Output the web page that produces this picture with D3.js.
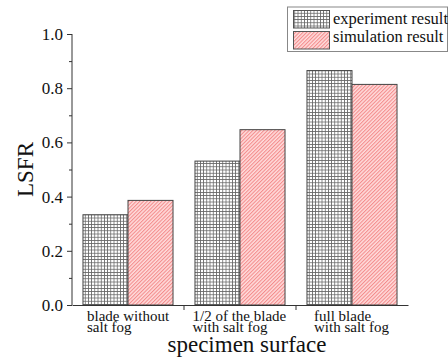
<!DOCTYPE html>
<html>
<head>
<meta charset="utf-8">
<script src="https://cdn.jsdelivr.net/npm/d3@7"></script>
<style>
  body { margin: 0; background: #fff; }
</style>
</head>
<body>
<script>
const width = 448;
const height = 362;

const categories = ['blade without\nsalt fog', '1/2 of the blade\nwith salt fog', 'full blade\nwith salt fog'];
const series = ['experiment result', 'simulation result'];
const experiment = [0.333, 0.531, 0.865];
const simulation = [0.386, 0.647, 0.814];
const yTicks = [0.0, 0.2, 0.4, 0.6, 0.8, 1.0];
const yMinor = [0.1, 0.3, 0.5, 0.7, 0.9];

const font = "'Liberation Serif', 'Times New Roman', serif";
const margin = { left: 72, right: 40, top: 34, bottom: 57 };

const svg = d3.select('body')
  .append('svg')
  .attr('width', width)
  .attr('height', height);

const defs = svg.append('defs');

// grid pattern for experiment
const grid = defs.append('pattern')
  .attr('id', 'grid')
  .attr('patternUnits', 'userSpaceOnUse')
  .attr('width', 3.2)
  .attr('height', 3.2);
grid.append('rect').attr('width', 3.2).attr('height', 3.2).attr('fill', '#fff');
grid.append('path')
  .attr('d', 'M0,0.4H3.2M0.4,0V3.2')
  .attr('stroke', '#666')
  .attr('stroke-width', 0.8);

// diagonal pattern for simulation
const hatch = defs.append('pattern')
  .attr('id', 'hatch')
  .attr('patternUnits', 'userSpaceOnUse')
  .attr('width', 2.6)
  .attr('height', 2.6)
  .attr('patternTransform', 'rotate(45)');
hatch.append('rect').attr('width', 2.6).attr('height', 2.6).attr('fill', '#ffdcdc');
hatch.append('path')
  .attr('d', 'M0.6,0V2.6')
  .attr('stroke', '#f07070')
  .attr('stroke-width', 0.8);

const fills = ['url(#grid)', 'url(#hatch)'];

const x = d3.scaleBand()
  .domain(categories)
  .range([margin.left, width - margin.right])
  .padding(0);

const inner = d3.scaleBand()
  .domain(series)
  .range([0, x.bandwidth()])
  .paddingOuter(0.244)
  .paddingInner(0);

const y = d3.scaleLinear()
  .domain([0, 1])
  .range([height - margin.bottom, margin.top]);

const rows = categories.map((c, i) => ({ cat: c, vals: [experiment[i], simulation[i]] }));

const group = svg.selectAll('.group')
  .data(rows)
  .join('g')
    .attr('transform', d => `translate(${x(d.cat)},0)`);

group.selectAll('rect')
  .data(d => d.vals.map((v, j) => ({ s: series[j], v, j })))
  .join('rect')
    .attr('x', d => inner(d.s))
    .attr('width', inner.bandwidth())
    .attr('y', d => y(d.v))
    .attr('height', d => y(0) - y(d.v))
    .attr('fill', d => fills[d.j])
    .attr('stroke', '#444')
    .attr('stroke-width', 1);

// y axis
const yAxis = svg.append('g')
  .attr('transform', `translate(${margin.left},0)`)
  .call(d3.axisLeft(y).tickValues(yTicks).tickFormat(d3.format('.1f')).tickSize(5).tickPadding(4))
  .call(g => g.select('.domain').attr('d', `M0,${y(0)}V${y(1)}`));
yAxis.selectAll('text')
  .style('font-family', font)
  .style('font-size', '17px')
  .attr('fill', '#111');
yAxis.selectAll('line, path').attr('stroke', '#333');

svg.append('g')
  .attr('transform', `translate(${margin.left},0)`)
  .call(d3.axisLeft(y).tickValues(yMinor).tickSize(3).tickFormat(''))
  .call(g => g.select('.domain').remove())
  .selectAll('line').attr('stroke', '#333');

// x axis
const xAxis = svg.append('g')
  .attr('transform', `translate(0,${y(0)})`)
  .call(d3.axisBottom(x).tickValues([]).tickSizeOuter(0));
xAxis.select('.domain').attr('stroke', '#333');
xAxis.selectAll('.sep')
  .data(categories.slice(1))
  .join('line')
    .attr('x1', d => x(d))
    .attr('x2', d => x(d))
    .attr('y1', 0)
    .attr('y2', 5)
    .attr('stroke', '#333');

// category labels (two lines, left aligned block centered in band)
const labelW = [82, 95, 76];
categories.forEach((c, i) => {
  const x0 = x(c) + x.bandwidth() / 2 - labelW[i] / 2;
  const t = svg.append('text')
    .attr('x', x0)
    .attr('y', y(0) + 15.5)
    .attr('fill', '#111')
    .style('font-family', font)
    .style('font-size', '15px');
  c.split('\n').forEach((line, k) => {
    t.append('tspan')
      .attr('x', x0)
      .attr('dy', k === 0 ? 0 : 11)
      .text(line);
  });
});

// axis titles
svg.append('text')
  .attr('x', 247)
  .attr('y', 352)
  .attr('text-anchor', 'middle')
  .attr('fill', '#111')
  .style('font-family', font)
  .style('font-size', '23px')
  .text('specimen surface');

svg.append('text')
  .attr('transform', `translate(33,${(y(0) + y(1)) / 2}) rotate(-90)`)
  .attr('text-anchor', 'middle')
  .attr('fill', '#111')
  .style('font-family', font)
  .style('font-size', '23px')
  .text('LSFR');

// legend
const legend = svg.append('g');
legend.append('rect')
  .attr('x', 287.5).attr('y', 7)
  .attr('width', 160).attr('height', 44.5)
  .attr('fill', '#fff')
  .attr('stroke', '#888');
series.forEach((s, i) => {
  legend.append('rect')
    .attr('x', 293.5).attr('y', 10.5 + i * 21)
    .attr('width', 36).attr('height', 17.5)
    .attr('fill', fills[i])
    .attr('stroke', '#555');
  legend.append('text')
    .attr('x', 333).attr('y', 24 + i * 18.3)
    .attr('fill', '#111')
    .style('font-family', font)
    .style('font-size', '16.5px')
    .text(s);
});
</script>
</body>
</html>
